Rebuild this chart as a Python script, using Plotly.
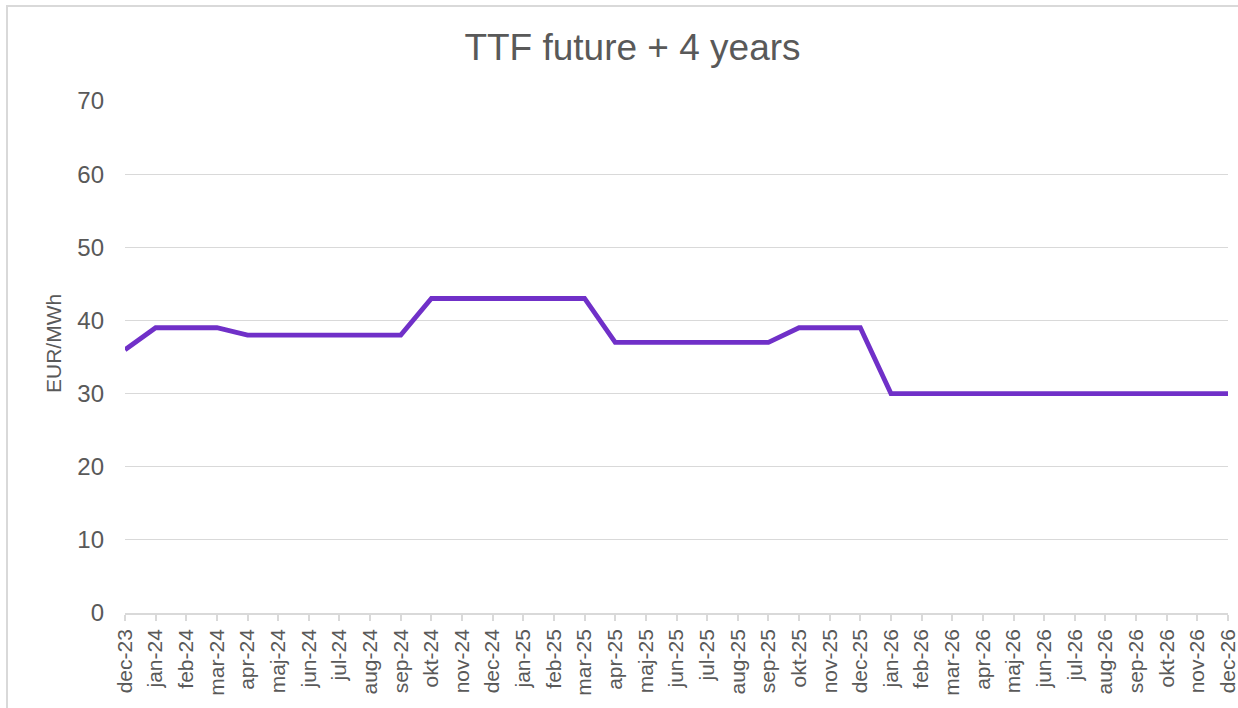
import plotly.graph_objects as go

months = ["dec-23", "jan-24", "feb-24", "mar-24", "apr-24", "maj-24", "jun-24", "jul-24",
          "aug-24", "sep-24", "okt-24", "nov-24", "dec-24", "jan-25", "feb-25", "mar-25",
          "apr-25", "maj-25", "jun-25", "jul-25", "aug-25", "sep-25", "okt-25", "nov-25",
          "dec-25", "jan-26", "feb-26", "mar-26", "apr-26", "maj-26", "jun-26", "jul-26",
          "aug-26", "sep-26", "okt-26", "nov-26", "dec-26"]
prices = [36, 39, 39, 39, 38, 38, 38, 38,
          38, 38, 43, 43, 43, 43, 43, 43,
          37, 37, 37, 37, 37, 37, 39, 39,
          39, 30, 30, 30, 30, 30, 30, 30,
          30, 30, 30, 30, 30]
y_ticks = [0, 10, 20, 30, 40, 50, 60, 70]

W, H = 1238, 708
L, R, T, B = 125, 10, 101, 95
pw, ph = W - L - R, H - T - B

fig = go.Figure()
fig.add_trace(go.Scatter(x=months, y=prices, mode="lines",
                         line=dict(color="#7030c8", width=4.8), showlegend=False))

fig.update_layout(
    width=W, height=H,
    paper_bgcolor="white", plot_bgcolor="white",
    margin=dict(l=L, r=R, t=T, b=B),
    font=dict(family="Liberation Sans, Arial, sans-serif", color="#595959"),
    title=dict(text="TTF future + 4 years", x=632.5 / W, xanchor="center",
               y=1 - 47 / H, yanchor="middle",
               font=dict(size=37, color="#595959")),
    xaxis=dict(type="category", range=[0, len(months) - 1], tickangle=-90, automargin=False,
               tickfont=dict(size=21, color="#595959"),
               showgrid=False, showline=True, linecolor="#d9d9d9", linewidth=1.5,
               ticks="outside", ticklen=6, tickcolor="#d9d9d9", tickwidth=1.5),
    yaxis=dict(range=[0, 70], tickvals=y_ticks, tickfont=dict(size=24, color="#595959"),
               automargin=False,
               showgrid=True, gridcolor="#d9d9d9", gridwidth=1.2, zeroline=False,
               showline=False, ticks="", ticklabelstandoff=20),
    annotations=[dict(text="EUR/MWh", xref="paper", yref="paper",
                      x=(53 - L) / pw, y=(T + ph - 344) / ph,
                      xanchor="center", yanchor="middle", textangle=-90, showarrow=False,
                      font=dict(size=21, color="#595959"))],
    shapes=[dict(type="rect", xref="paper", yref="paper",
                 x0=(7 - L) / pw, x1=1.2, y0=-0.5, y1=(T + ph - 6) / ph,
                 line=dict(color="#d9d9d9", width=2), fillcolor="rgba(0,0,0,0)", layer="below")],
)

fig.write_html(
    "out.html",
    config={"displayModeBar": False},
    post_script="document.body.style.margin='0';document.documentElement.style.overflow='hidden';",
)
